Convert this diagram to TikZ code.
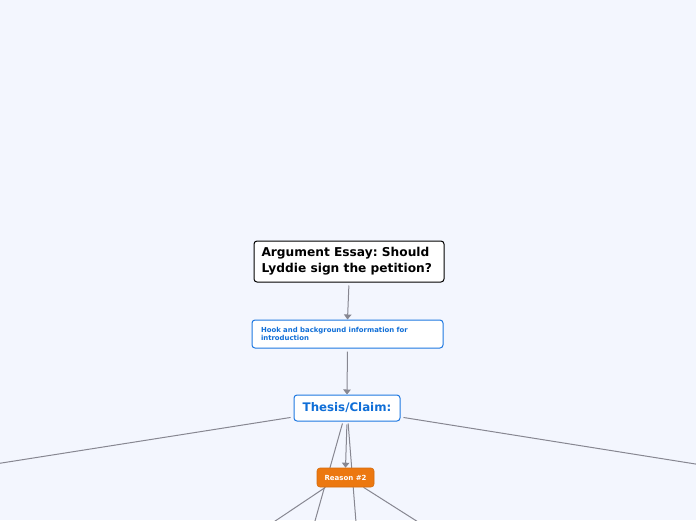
\documentclass[tikz,border=0pt]{standalone}
\usepackage{fontspec}
\setmainfont{DejaVu Sans}
\frenchspacing
\usetikzlibrary{arrows.meta,calc}
\definecolor{bgc}{RGB}{243,246,254}
\definecolor{linec}{RGB}{135,135,145}
\definecolor{bluec}{RGB}{30,120,225}
\definecolor{bluet}{RGB}{15,110,215}
\definecolor{orangec}{RGB}{236,120,16}
\pgfdeclarelayer{bg}
\pgfdeclarelayer{edges}
\pgfsetlayers{bg,edges,main}
\tikzset{
  box/.style={rectangle, rounded corners=3pt, fill=white, line width=1pt, inner xsep=0pt, inner ysep=0pt, align=flush left, font=\bfseries},
  titlebox/.style={box, draw=black, minimum width=190pt, minimum height=41pt, text width=175pt, font=\fontsize{12.2}{16}\selectfont\bfseries},
  hookbox/.style={box, draw=bluec, text=bluet, minimum width=191pt, minimum height=28pt, text width=173pt, font=\fontsize{6.9}{8.8}\selectfont\bfseries},
  thesisbox/.style={box, draw=bluec, text=bluet, minimum width=106pt, minimum height=26pt, align=center, font=\fontsize{11.8}{14}\selectfont\bfseries},
  reasonbox/.style={box, draw=orangec!90!black, line width=0.6pt, fill=orangec, text=white, minimum width=57pt, minimum height=19pt, align=center, font=\fontsize{7}{8}\selectfont\bfseries},
  conn/.style={draw=linec, line width=1pt},
  arr/.style={conn, -{Triangle[width=7.5pt,length=5pt]}, shorten <=3pt},
}
\begin{document}
\begin{tikzpicture}[x=1pt,y=-1pt]
\begin{pgfonlayer}{bg}
\fill[bgc] (0,0) rectangle (696,520);
\end{pgfonlayer}
\useasboundingbox (0,0) rectangle (696,520);
\clip (0,0) rectangle (696,520);

\node[titlebox] (title) at (349,261.5) {Argument Essay: Should\\Lyddie sign the petition?};
\node[hookbox] (hook) at (347.5,334) {Hook and background information for\\introduction};
\node[thesisbox] (thesis) at (347,408) {Thesis/Claim:};
\node[reasonbox] (reason) at (345.5,477.5) {Reason \#2};

\coordinate (cL) at (-100,479);
\coordinate (cR) at (796,480);
\coordinate (cA) at (304,560);
\coordinate (cB) at (359,560);
\coordinate (cC) at (217,560);
\coordinate (cD) at (478,560);

\begin{pgfonlayer}{edges}
\draw[arr] (title.south) -- (hook.north);
\draw[arr] (hook.south) -- (thesis.north);
\draw[arr] (thesis.south) -- (reason.north);
\draw[conn, shorten <=3pt] ([yshift=-9pt]thesis.west) -- (cL);
\draw[conn, shorten <=3pt] ([yshift=-9pt]thesis.east) -- (cR);
\draw[conn, shorten <=2pt] ([xshift=-4pt]thesis.south) -- (cA);
\draw[conn, shorten <=2pt] ([xshift=1pt]thesis.south) -- (cB);
\draw[conn] ([xshift=-20pt]reason.south) -- (cC);
\draw[conn] ([xshift=18pt]reason.south) -- (cD);
\end{pgfonlayer}
\end{tikzpicture}
\end{document}
